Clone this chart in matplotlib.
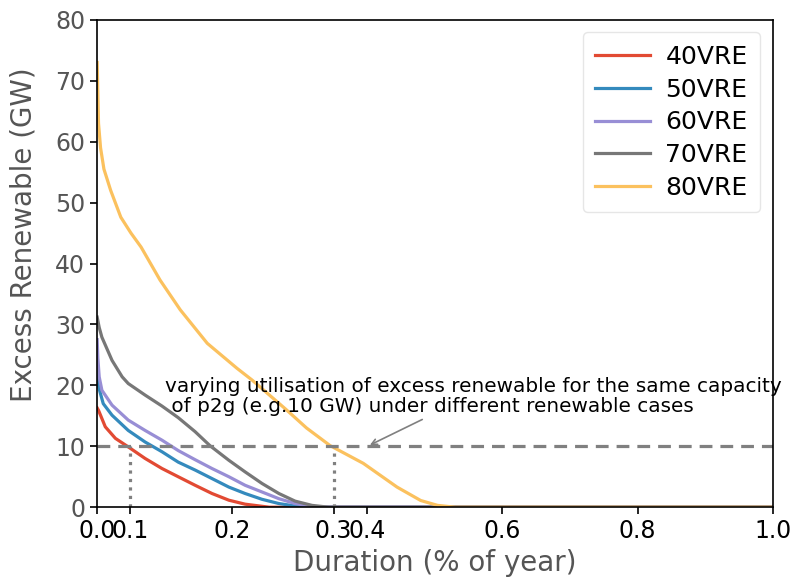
import matplotlib
matplotlib.use("Agg")
import matplotlib.pyplot as plt

# ---- data ----
labels = ["40VRE", "50VRE", "60VRE", "70VRE", "80VRE"]
colors = ["#E24A33", "#348ABD", "#988ED5", "#777777", "#FBC15E"]

x40 = [0.0, 0.002, 0.012, 0.027, 0.046, 0.071, 0.096, 0.120, 0.145, 0.170, 0.195, 0.219, 0.244, 0.255, 1.0]
y40 = [16.3, 15.9, 13.2, 11.3, 9.9, 8.0, 6.35, 5.0, 3.6, 2.25, 1.15, 0.5, 0.15, 0.0, 0.0]

x50 = [0.0, 0.001, 0.002, 0.009, 0.022, 0.046, 0.071, 0.096, 0.120, 0.145, 0.170, 0.195, 0.219, 0.244, 0.269, 0.293, 0.31, 1.0]
y50 = [23.0, 21.0, 19.8, 17.0, 15.1, 12.6, 10.7, 9.1, 7.4, 6.1, 4.7, 3.3, 2.25, 1.3, 0.6, 0.2, 0.0, 0.0]

x60 = [0.0, 0.001, 0.003, 0.007, 0.022, 0.046, 0.071, 0.096, 0.120, 0.145, 0.170, 0.195, 0.219, 0.244, 0.269, 0.293, 0.318, 0.33, 1.0]
y60 = [27.5, 24.5, 21.4, 19.2, 16.75, 14.3, 12.6, 11.0, 9.3, 7.8, 6.35, 5.0, 3.6, 2.5, 1.4, 0.6, 0.15, 0.0, 0.0]

x70 = [0.0, 0.003, 0.007, 0.022, 0.037, 0.046, 0.071, 0.096, 0.120, 0.145, 0.167, 0.195, 0.219, 0.244, 0.269, 0.293, 0.318, 0.343, 1.0]
y70 = [31.2, 29.5, 27.9, 24.1, 21.4, 20.3, 18.4, 16.6, 14.7, 12.4, 10.1, 7.7, 5.8, 3.9, 2.25, 1.0, 0.3, 0.0, 0.0]

x80 = [0.0, 0.002, 0.005, 0.010, 0.020, 0.035, 0.050, 0.065, 0.093, 0.123, 0.163, 0.207, 0.229, 0.278, 0.310, 0.345, 0.394, 0.444, 0.479, 0.504, 0.53, 1.0]
y80 = [73.0, 63.0, 59.0, 55.5, 52.0, 47.6, 45.0, 42.7, 37.3, 32.4, 26.9, 22.8, 20.9, 16.2, 13.0, 10.1, 7.2, 3.3, 1.1, 0.3, 0.0, 0.0]

series_x = [x40, x50, x60, x70, x80]
series_y = [y40, y50, y60, y70, y80]

p2g_capacity = 10
marks_x = [0.049, 0.35]
marks_lbl = ["0.1", "0.3"]
xticks = [0.0, 0.2, 0.4, 0.6, 0.8, 1.0]
xtick_lbl = ["0.0", "0.2", "0.4", "0.6", "0.8", "1.0"]
yticks = [0, 10, 20, 30, 40, 50, 60, 70, 80]

note = "varying utilisation of excess renewable for the same capacity\n of p2g (e.g.10 GW) under different renewable cases"

# ---- figure ----
fig = plt.figure(figsize=(7.9, 5.83), dpi=100)
ax = fig.add_axes([0.123, 0.130, 0.855, 0.836])

for xs, ys, lab, c in zip(series_x, series_y, labels, colors):
    ax.plot(xs, ys, color=c, lw=2.3, label=lab)

ax.axhline(p2g_capacity, color="gray", ls=(0, (4, 2.5)), lw=2.3)
for mx in marks_x:
    ax.plot([mx, mx], [0, p2g_capacity], color="gray", ls=":", lw=2.3)

ax.set_xlim(0, 1.0)
ax.set_ylim(0, 80)

ax.set_xticks(xticks + marks_x)
ax.set_xticklabels(xtick_lbl + marks_lbl)
for i, t in enumerate(ax.get_xticklabels()):
    if i >= len(xticks):
        t.set_color("red")
ax.set_yticks(yticks)

ax.tick_params(axis="x", labelsize=17, colors="black", length=5, width=1.2)
ax.tick_params(axis="y", labelsize=17, labelcolor="#555555", length=5, width=1.2)
for s in ax.spines.values():
    s.set_color("black")
    s.set_linewidth(1.2)

ax.set_xlabel("Duration (% of year)", fontsize=20, color="#555555")
ax.set_ylabel("Excess Renewable (GW)", fontsize=20, color="#555555")
ax.yaxis.set_label_coords(-0.088, 0.56)

ax.text(0.10, 15.0, note, fontsize=14.4, va="bottom", ha="left", color="black",
        linespacing=1.05)
ax.annotate("", xy=(0.40, 10), xytext=(0.485, 14.6),
            arrowprops=dict(arrowstyle="->", color="gray", lw=1.2))

leg = ax.legend(loc="upper right", fontsize=18, frameon=True, handlelength=2.2,
                handletextpad=0.6, borderpad=0.5, labelspacing=0.35)
leg.get_frame().set_edgecolor("#e0e0e0")

fig.savefig("out.png", dpi=100)
